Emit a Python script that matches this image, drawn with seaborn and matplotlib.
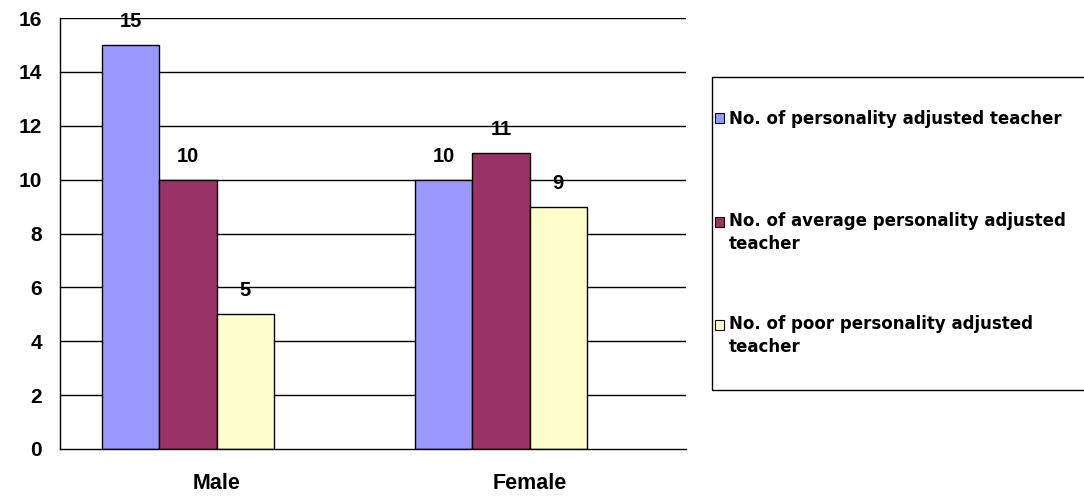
import matplotlib
matplotlib.use("Agg")
import matplotlib.pyplot as plt
from matplotlib.patches import Patch, Rectangle
from matplotlib.legend_handler import HandlerPatch
import pandas as pd
import seaborn as sns

# Categories and series
genders = ["Male", "Female"]
series_names = [
    "No. of personality adjusted teacher",
    "No. of average personality adjusted\nteacher",
    "No. of poor personality adjusted\nteacher",
]
adjusted = [15, 10]
average_adjusted = [10, 11]
poor_adjusted = [5, 9]
y_ticks = [0, 2, 4, 6, 8, 10, 12, 14, 16]

colors = ["#9999FF", "#993366", "#FFFFCC"]

rows = []
for name, vals in zip(series_names, [adjusted, average_adjusted, poor_adjusted]):
    for g, v in zip(genders, vals):
        rows.append({"gender": g, "series": name, "count": v})
df = pd.DataFrame(rows)

# An unused fourth slot keeps the clustered layout of the spreadsheet chart
spare = " "
hue_order = series_names + [spare]
palette = dict(zip(series_names, colors))
palette[spare] = "#FFFFFF"

sns.set_style("white")
plt.rcParams["font.family"] = ["Liberation Sans", "DejaVu Sans"]
plt.rcParams["font.weight"] = "bold"
plt.rcParams["text.color"] = "black"
plt.rcParams["xtick.color"] = "black"
plt.rcParams["ytick.color"] = "black"
plt.rcParams["axes.labelcolor"] = "black"

fig = plt.figure(figsize=(10.84, 4.96), dpi=100)
ax = fig.add_axes([60 / 1084, 47 / 496, 626 / 1084, 431 / 496])

sns.barplot(
    data=df, x="gender", y="count", hue="series", order=genders,
    hue_order=hue_order, palette=palette, width=0.73, dodge=True,
    saturation=1, edgecolor="black", linewidth=1.0, legend=False, ax=ax,
    errorbar=None,
)

for cont in ax.containers:
    if len(cont) and cont.datavalues is not None:
        ax.bar_label(cont, labels=[f"{v:g}" for v in cont.datavalues],
                     padding=10, fontsize=14.5, fontweight="bold", color="black")

ax.set_xlim(-0.5, 1.5)
ax.set_ylim(0, 16)
ax.set_yticks(y_ticks)
ax.set_yticklabels([str(t) for t in y_ticks], fontsize=15, fontweight="bold")
ax.set_xticks(range(len(genders)))
ax.set_xticklabels(genders, fontsize=15.5, fontweight="bold")
ax.set_xticks([-0.5, 0.5, 1.5], minor=True)
ax.tick_params(axis="x", which="major", length=0, pad=17)
ax.tick_params(axis="x", which="minor", length=6, width=1, color="black", direction="out")
ax.tick_params(axis="y", length=7, width=1, color="black", direction="out", pad=6)
ax.set_xlabel("")
ax.set_ylabel("")

ax.grid(False)
for t in y_ticks[1:]:
    ax.axhline(t, color="black", linewidth=1.0, zorder=0.5)
for side in ["top", "right"]:
    ax.spines[side].set_visible(False)
for side in ["left", "bottom"]:
    ax.spines[side].set_color("black")
    ax.spines[side].set_linewidth(1.0)


def first_line_key(shift):
    """Legend key square raised to sit beside the first text line."""
    def make(legend, orig_handle, xdescent, ydescent, width, height, fontsize):
        return Rectangle((-xdescent, -ydescent + shift), width, height)
    return HandlerPatch(patch_func=make)


# Legend entries spread evenly inside a plain rectangular border
entry_tops = [110, 212, 315]
for name, color, top in zip(series_names, colors, entry_tops):
    key = Patch(facecolor=color, edgecolor="black", linewidth=0.8)
    shift = 8.5 if "\n" in name else 0
    leg = fig.legend(
        [key], [name],
        loc="upper left", bbox_to_anchor=(715 / 1084, 1 - top / 496),
        frameon=False, handlelength=0.55, handleheight=0.55,
        handletextpad=0.3, borderpad=0, borderaxespad=0,
        handler_map={key: first_line_key(shift)},
        prop={"family": "DejaVu Sans", "weight": "bold", "size": 12},
    )
    for txt in leg.get_texts():
        txt.set_linespacing(1.35)
        txt.set_color("black")

fig.patches.append(Rectangle(
    (712 / 1084, 1 - 390 / 496), 400 / 1084, 313 / 496,
    transform=fig.transFigure, fill=False, edgecolor="black", linewidth=1.0,
))

fig.savefig("out.png", dpi=100)
